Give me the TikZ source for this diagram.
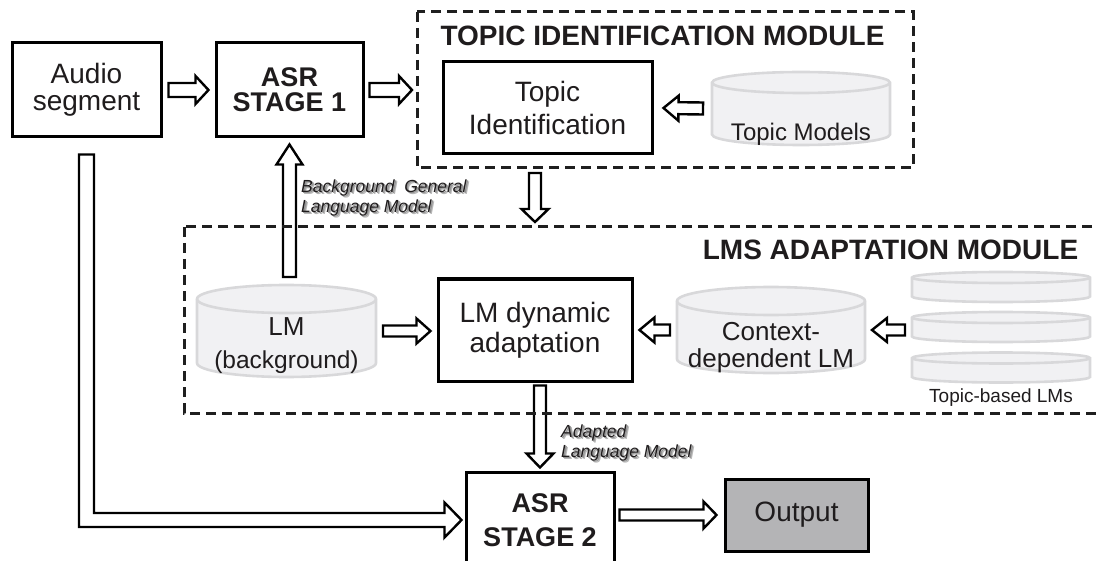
\documentclass[tikz,border=0pt]{standalone}
\usepackage{fontspec}
\setmainfont{Liberation Sans}
\usetikzlibrary{calc}

\definecolor{ink}{HTML}{1F1C1D}
\definecolor{drumfill}{HTML}{F1F1F3}
\definecolor{drumline}{HTML}{D8D8DA}
\definecolor{outfill}{HTML}{B4B4B6}

\newcommand\fsz[2]{\fontsize{#1}{#2}\selectfont}
% text with a soft grey drop shadow
\newcommand\shd[1]{\rlap{\textcolor{black!28}{\hspace{2.4pt}\raisebox{-2.4pt}{#1}}}\rlap{\textcolor{black!42}{\hspace{1.4pt}\raisebox{-1.4pt}{#1}}}#1}

\tikzset{
  box/.style={draw=black, line width=3pt, fill=white, text=ink, inner sep=0pt, align=center},
  holder/.style={inner sep=0pt, outer sep=0pt},
  drumtext/.style={inner sep=0pt, text=ink, align=center},
  dashbox/.style={draw=black!88, line width=3pt, dash pattern=on 10pt off 6pt},
  blkline/.style={draw=black, line width=2.4pt, fill=white, line join=miter, miter limit=10},
  tag/.style={inner sep=0pt, text=ink, align=left, font=\fsz{17.5}{20.5}\itshape},
  title/.style={inner sep=0pt, text=ink, font=\fsz{28}{30}\bfseries},
}

% hollow block arrow: start, tip, shaft half-width, head half-width, head length
\newcommand\blk[5]{%
  \coordinate (blkA) at (#1);
  \coordinate (blkB) at (#2);
  \coordinate (blkC) at ($(blkB)!#5!(blkA)$);
  \draw[blkline] ($(blkA)!#3!90:(blkB)$) -- ($(blkC)!#3!-90:(blkA)$)
    -- ($(blkC)!#4!-90:(blkA)$) -- (blkB) -- ($(blkC)!#4!90:(blkA)$)
    -- ($(blkC)!#3!90:(blkA)$) -- ($(blkA)!#3!-90:(blkB)$) -- cycle;}

% database drum drawn over a holder node: node, half width, cap radius
\newcommand\drum[3]{%
  \path[fill=drumfill, draw=drumline, line width=2.6pt]
    ([yshift=-#3]#1.north west) -- ([yshift=#3]#1.south west)
    arc[start angle=180, end angle=360, x radius=#2, y radius=#3]
    -- ([yshift=-#3]#1.north east)
    arc[start angle=0, end angle=180, x radius=#2, y radius=#3] -- cycle;
  \draw[draw=drumline, line width=2.6pt] ([yshift=-#3]#1.north west)
    arc[start angle=180, end angle=360, x radius=#2, y radius=#3];}

\begin{document}
\begin{tikzpicture}[x=1pt, y=-1pt]
\useasboundingbox (0,0) rectangle (1097,561);

% ---- first pass ----
\node[box, minimum width=149pt, minimum height=94pt, font=\fsz{28}{27}] (audio) at (86.5,90) {Audio\\segment};
\node[box, minimum width=147pt, minimum height=94pt, font=\fsz{27}{25}\bfseries] (asr1) at (289.5,90) {ASR\\STAGE 1};

% ---- topic identification module ----
\node[holder, minimum width=496pt, minimum height=156pt] (tim) at (665,90) {};
\node[title] (timtitle) at (662.5,36) {TOPIC IDENTIFICATION MODULE};
\node[box, minimum width=209pt, minimum height=92pt, font=\fsz{28}{33}] (tident) at (547.5,108) {Topic\\Identification};
\node[holder, minimum width=178pt, minimum height=73pt] (tm) at (801,108.5) {};
\drum{tm}{89pt}{10.5pt}
\node[drumtext, font=\fsz{24}{26}] (tmtext) at ([yshift=-26pt]tm.center) {Topic Models};

% ---- LMs adaptation module ----
\node[holder, minimum width=916pt, minimum height=186pt] (lms) at (642,320) {};
\node[title] (lmstitle) at (890.5,250) {LMS ADAPTATION MODULE};
\node[holder, minimum width=179pt, minimum height=92pt] (lmbg) at (286.5,331) {};
\drum{lmbg}{89.5pt}{14pt}
\node[drumtext, font=\fsz{26}{33}] (lmbgtext) at ([yshift=-15pt]lmbg.center) {LM\\\fsz{24.5}{33}(background)};
\node[box, minimum width=194pt, minimum height=102pt, font=\fsz{28}{30}] (lmdyn) at (535,330) {LM dynamic\\adaptation};
\node[holder, minimum width=188pt, minimum height=86pt] (ctx) at (771,330) {};
\drum{ctx}{94pt}{14pt}
\node[drumtext, font=\fsz{26}{27}] (ctxtext) at ([yshift=-18pt]ctx.center) {Context-\\dependent LM};
\node[holder, minimum width=178pt, minimum height=30pt] (d1) at (1001,287) {};
\drum{d1}{89pt}{5.5pt}
\node[holder, minimum width=178pt, minimum height=30pt] (d2) at (1001,327) {};
\drum{d2}{89pt}{5.5pt}
\node[holder, minimum width=178pt, minimum height=30pt] (d3) at (1001,367.5) {};
\drum{d3}{89pt}{5.5pt}
\node[drumtext, font=\fsz{19}{20}] (tlmcap) at (1001,398) {Topic-based LMs};

% ---- second pass ----
\node[box, minimum width=148pt, minimum height=96pt, font=\fsz{27}{34}\bfseries] (asr2) at (540,520) {ASR\\STAGE 2};
\node[box, fill=outfill, minimum width=143pt, minimum height=72pt, font=\fsz{28}{30}] (out) at (796.5,515) {Output};

% ---- connector labels ----
\node[tag, anchor=west] (bglabel) at (301,199) {\shd{Background\ \ General}\\\shd{Language Model}};
\node[tag, anchor=west] (adlabel) at (561,444) {\shd{Adapted}\\\shd{Language Model}};

% ---- connectors ----
\blk{[xshift=6pt]audio.east}{[xshift=-6pt]asr1.west}{7pt}{14pt}{13pt}
\blk{[xshift=5pt]asr1.east}{[xshift=-5pt]tim.west}{7pt}{14pt}{13pt}
\blk{[xshift=-9pt]tm.west}{[xshift=10pt]tident.east}{6pt}{12.5pt}{15pt}

\coordinate (tiOut) at (lmdyn.north |- tim.south);
\coordinate (lmsIn) at (lmdyn.north |- lms.north);
\blk{[yshift=-5pt]tiOut}{[yshift=5pt]lmsIn}{6pt}{13.5pt}{13pt}

\coordinate (bgUp) at (asr1.south |- lmbg.north);
\blk{[yshift=8pt]bgUp}{[yshift=-6pt]asr1.south}{6.5pt}{13pt}{20pt}

\coordinate (dynW) at (lmdyn.west |- lmbg.east);
\blk{[xshift=7pt]lmbg.east}{[xshift=-6pt]dynW}{5.5pt}{12.5pt}{14pt}

\coordinate (dynE) at (lmdyn.east |- ctx.west);
\blk{[xshift=-7pt]ctx.west}{[xshift=6pt]dynE}{5.5pt}{12.5pt}{15pt}

\coordinate (dsW) at (d2.west |- ctx.east);
\blk{[xshift=-7pt]dsW}{[xshift=7pt]ctx.east}{5.5pt}{12pt}{15pt}

\coordinate (dynS) at (asr2.north |- lmdyn.south);
\blk{[yshift=-3pt]dynS}{[yshift=3pt]asr2.north}{6pt}{13.5pt}{14pt}

\coordinate (a2E) at (asr2.east |- out.west);
\blk{[xshift=4pt]a2E}{[xshift=-7pt]out.west}{5.5pt}{13.5pt}{13pt}

% audio segment fed straight into the second pass
\coordinate (auTop) at ([yshift=-16pt]audio.south);
\coordinate (auBend) at (audio.south |- asr2.west);
\coordinate (auTip) at ([xshift=-3pt]asr2.west);
\draw[blkline] ([xshift=-7.5pt]auTop) -- ([xshift=7.5pt]auTop)
  -- ([xshift=7.5pt,yshift=7pt]auBend) -- ([xshift=-17pt,yshift=7pt]auTip)
  -- ([xshift=-17pt,yshift=17.5pt]auTip) -- (auTip)
  -- ([xshift=-17pt,yshift=-17.5pt]auTip) -- ([xshift=-17pt,yshift=-7pt]auTip)
  -- ([xshift=-7.5pt,yshift=-7pt]auBend) -- cycle;

% ---- module frames ----
\draw[dashbox] (tim.north west) rectangle (tim.south east);
\draw[dashbox] (lms.north west) rectangle (lms.south east);
\end{tikzpicture}
\end{document}
